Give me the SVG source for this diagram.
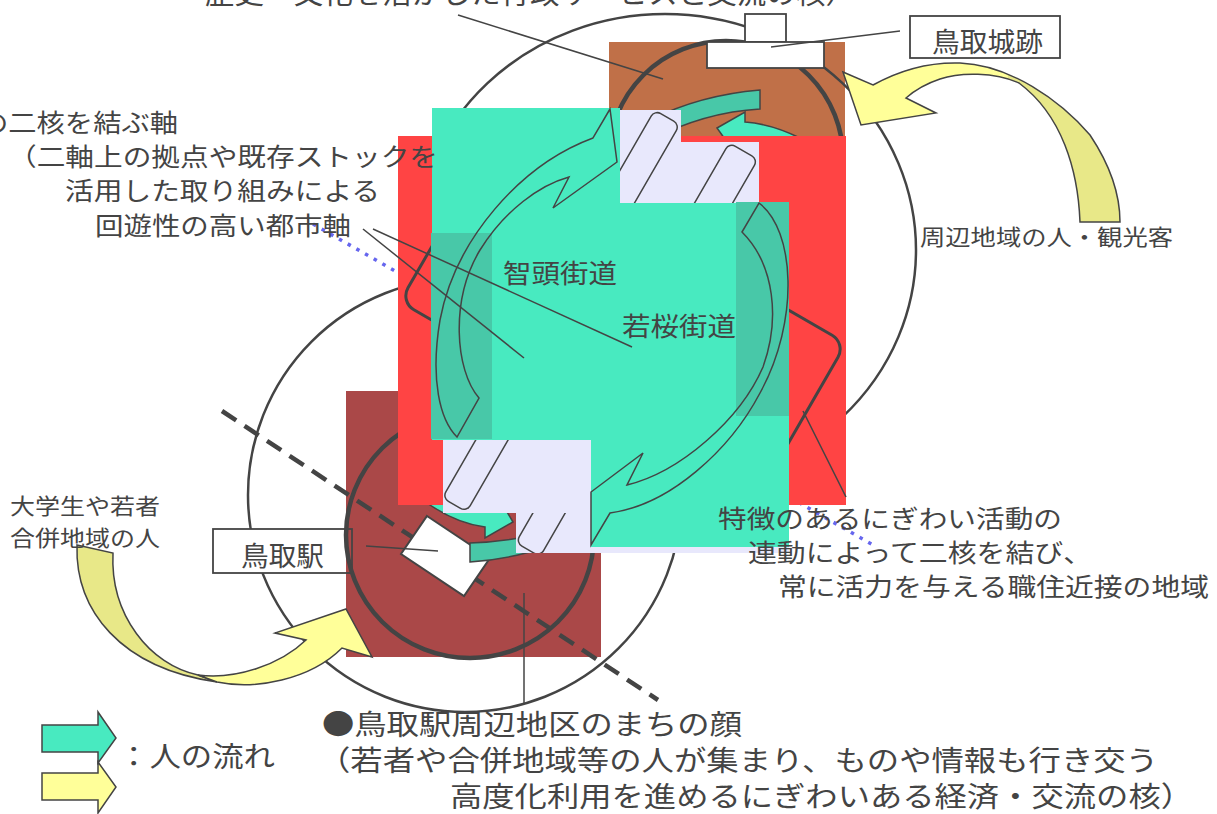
<svg xmlns="http://www.w3.org/2000/svg" width="1217" height="814" viewBox="0 0 1217 814">
<defs>
<style>
.t{font-family:"Noto Sans CJK JP","Noto Sans",sans-serif;fill:#444;}
.ln{stroke:#444;stroke-width:1.5;fill:none;}
.ol{stroke:#444;stroke-width:1.5;}
.thick{stroke:#444;stroke-width:4.5;fill:none;}
.lav{fill:#E8E8FC;}
.teal{fill:#48EAC0;}
.dteal{fill:#48C8A8;}
.yl{fill:#FFFF99;}
.yd{fill:#E8E888;}
.wb{fill:#fff;stroke:#444;stroke-width:1.8;}
</style>
<clipPath id="cTop"><path d="M620,110H681V142H759V203H620Z"/></clipPath>
<clipPath id="cB1"><rect x="443" y="440" width="148" height="73"/></clipPath>
<clipPath id="cB2"><rect x="516" y="513" width="75" height="40"/></clipPath>
<clipPath id="cTw"><path d="M1008,70 L1064,101 L1200,101 L1200,270 L1000,270 Z"/></clipPath>
</defs>
<rect width="1217" height="814" fill="#fff"/>

<g id="circles">
<ellipse cx="665" cy="250" rx="251" ry="236" fill="#fff"/>
<circle cx="465" cy="495" r="217" fill="#fff" stroke="#444" stroke-width="2.5"/>
</g>

<g id="castle-core">
<rect x="609" y="42" width="236" height="100" fill="#C07048"/>
<circle cx="726" cy="158" r="117" class="thick"/>
<path d="M717,128 L745,112 L745,122 Q772,124 800,138 L800,160 L727,142 Z" class="teal ol"/>
<path d="M650,120 Q700,95 760,90 L760,109 Q705,112 650,140 Z" class="dteal ol"/>
</g>
<ellipse id="outer-ring" cx="665" cy="250" rx="251" ry="236" fill="none" stroke="#444" stroke-width="2.5"/>

<g id="station-core">
<rect x="213" y="529" width="139" height="44" fill="#fff"/>
<rect x="346" y="391" width="255" height="266" fill="#AA4848"/>
<rect x="213" y="529" width="139" height="44" fill="none" stroke="#444" stroke-width="1.8"/>
<ellipse cx="470" cy="535" rx="124" ry="123" class="thick"/>
<line x1="222" y1="411" x2="658" y2="700" stroke="#444" stroke-width="4.5" stroke-dasharray="17 10"/>
<polygon points="427,516 490,558 464,596 401,554" fill="#fff" stroke="#444" stroke-width="2"/>
<path d="M405,485 Q445,522 485,527 L485,538 L513,522 L500,500 L405,470 Z" class="teal ol"/>
<path d="M470,543 Q500,542 530,536 L530,552 Q500,560 470,562 Z" class="dteal ol"/>
<path d="M77,545 L113,553 C110,615 150,665 198,675 L217,682 C120,668 75,610 77,545 Z" class="yd ol"/>
<path d="M198,675 C235,680 280,665 306,640 L275,633 L346,609 L372,657 L342,648 C310,680 255,690 217,682 Z" class="yl ol"/>
</g>

<g id="connector-dotted">
<line x1="313" y1="224" x2="873" y2="545" stroke="#6666EE" stroke-width="3.5" stroke-dasharray="3.5 6.5"/>
</g>

<g id="zone">
<rect x="398" y="136" width="448" height="369" fill="#FF4444"/>
<rect x="-203.5" y="-93.5" width="407" height="187" rx="16" transform="translate(623,322.5) rotate(30)" fill="none" stroke="#444" stroke-width="3"/>
</g>

<g id="axis">
<path d="M432,108 H620 V203 H789 V547 H591 V440 H432 Z" class="teal"/>
<path d="M620,110 H681 V142 H759 V203 H620 Z" class="lav"/>
<path d="M443,440 H591 V547 H789 V553 H516 V513 H443 Z" class="lav"/>
<rect x="431" y="233" width="61" height="206" class="dteal"/>
<rect x="736" y="202" width="53" height="214" class="dteal"/>
<g clip-path="url(#cTop)">
<rect x="80" y="622" width="152" height="29" rx="7" transform="rotate(-60)" class="lav ol"/>
<rect x="80" y="703" width="161" height="33" rx="7" transform="rotate(-60)" class="lav ol"/>
</g>
<g clip-path="url(#cB1)">
<rect x="-210" y="632" width="160" height="28" rx="7" transform="rotate(-60)" class="lav ol"/>
</g>
<g clip-path="url(#cB2)">
<rect x="-212" y="718" width="160" height="28" rx="7" transform="rotate(-60)" class="lav ol"/>
</g>
<path d="M610,109 L593,138 C520,165 455,240 440,320 C430,380 440,420 457,437 L479,398 C455,370 450,300 480,250 C505,210 540,185 569,177 L553,208 L617,162 Z" class="ln"/>
<path d="M759,203 C795,230 800,320 760,393 C730,450 670,505 610,513 L591,545 L591,492 L643,453 L627,485 C680,472 740,420 763,367 C780,320 775,265 742,232 Z" class="ln"/>
</g>

<g id="castle-building">
<rect x="745" y="14" width="41" height="28" class="wb"/>
<rect x="707" y="42" width="117" height="26" class="wb"/>
</g>

<g id="visitor-arrow">
<path d="M843,72 L873,85 C900,70 930,62 960,63 C1010,65 1060,100 1090,135 C1110,165 1120,195 1120,222 L1080,222 C1078,170 1062,115 1019,83 C995,72 960,72 940,79 C925,84 915,90 906,98 L936,113 L861,125 Z" class="yl"/>
<path d="M843,72 L873,85 C900,70 930,62 960,63 C1010,65 1060,100 1090,135 C1110,165 1120,195 1120,222 L1080,222 C1078,170 1062,115 1019,83 C995,72 960,72 940,79 C925,84 915,90 906,98 L936,113 L861,125 Z" class="yd" clip-path="url(#cTw)"/>
<path d="M843,72 L873,85 C900,70 930,62 960,63 C1010,65 1060,100 1090,135 C1110,165 1120,195 1120,222 L1080,222 C1078,170 1062,115 1019,83 C995,72 960,72 940,79 C925,84 915,90 906,98 L936,113 L861,125 Z" class="ln"/>
</g>

<g id="connectors">
<line x1="458" y1="15" x2="663" y2="79" class="ln"/>
<line x1="900" y1="31" x2="771" y2="47" class="ln"/>
<line x1="363" y1="229" x2="524" y2="358" class="ln"/>
<line x1="373" y1="229" x2="632" y2="347" class="ln"/>
<line x1="803" y1="411" x2="846" y2="497" class="ln"/>
<line x1="366" y1="546" x2="438" y2="551" class="ln"/>
<line x1="524" y1="593" x2="524" y2="703" class="ln"/>
</g>

<g id="label-castle">
<rect x="910" y="16" width="150" height="42" class="wb"/>
<text class="t" x="932" y="52" font-size="27" textLength="111" lengthAdjust="spacingAndGlyphs">鳥取城跡</text>
</g>
<g id="label-station">
<text class="t" x="241" y="566" font-size="27" textLength="83" lengthAdjust="spacingAndGlyphs">鳥取駅</text>
</g>

<g id="texts">
<text class="t" x="205" y="4" font-size="28" textLength="650" lengthAdjust="spacingAndGlyphs">歴史・文化を活かした行政サービスと交流の核）</text>
<text class="t" x="-20" y="132" font-size="25" textLength="198" lengthAdjust="spacingAndGlyphs">の二核を結ぶ軸</text>
<text class="t" x="8" y="166" font-size="25" textLength="430" lengthAdjust="spacingAndGlyphs">（二軸上の拠点や既存ストックを</text>
<text class="t" x="65" y="200" font-size="25" textLength="315" lengthAdjust="spacingAndGlyphs">活用した取り組みによる</text>
<text class="t" x="95" y="235" font-size="25" textLength="256" lengthAdjust="spacingAndGlyphs">回遊性の高い都市軸</text>
<text class="t" x="503" y="283" font-size="26" textLength="114" lengthAdjust="spacingAndGlyphs">智頭街道</text>
<text class="t" x="622" y="336" font-size="26" textLength="114" lengthAdjust="spacingAndGlyphs">若桜街道</text>
<text class="t" x="920" y="245" font-size="22" textLength="253" lengthAdjust="spacingAndGlyphs">周辺地域の人・観光客</text>
<text class="t" x="10" y="514" font-size="22" textLength="150" lengthAdjust="spacingAndGlyphs">大学生や若者</text>
<text class="t" x="10" y="546" font-size="22" textLength="150" lengthAdjust="spacingAndGlyphs">合併地域の人</text>
<text class="t" x="718" y="528" font-size="25" textLength="344" lengthAdjust="spacingAndGlyphs">特徴のあるにぎわい活動の</text>
<text class="t" x="748" y="562" font-size="25" textLength="344" lengthAdjust="spacingAndGlyphs">連動によって二核を結び、</text>
<text class="t" x="778" y="596" font-size="25" textLength="431" lengthAdjust="spacingAndGlyphs">常に活力を与える職住近接の地域</text>
<text class="t" x="322" y="735" font-size="28" textLength="420" lengthAdjust="spacingAndGlyphs">●鳥取駅周辺地区のまちの顔</text>
<text class="t" x="318" y="771" font-size="28" textLength="840" lengthAdjust="spacingAndGlyphs">（若者や合併地域等の人が集まり、ものや情報も行き交う</text>
<text class="t" x="450" y="807" font-size="28" textLength="743" lengthAdjust="spacingAndGlyphs">高度化利用を進めるにぎわいある経済・交流の核）</text>
</g>

<g id="legend">
<polygon points="42,773 98,773 98,762 116,787 98,813 98,800 42,800" class="yl ol"/>
<polygon points="42,725 98,725 98,712 116,738 98,763 98,752 42,752" class="teal ol"/>
<text class="t" x="118" y="767" font-size="28" textLength="157" lengthAdjust="spacingAndGlyphs">：人の流れ</text>
</g>
</svg>
